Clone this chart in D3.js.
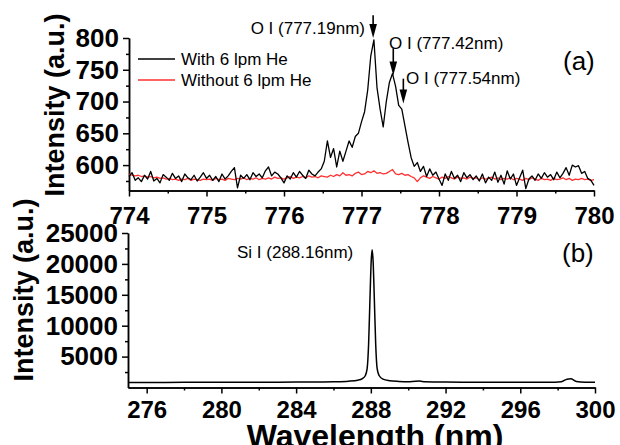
<!DOCTYPE html>
<html>
<head>
<meta charset="utf-8">
<script src="https://cdn.jsdelivr.net/npm/d3@7"></script>
<style>
  body { margin: 0; background: #fff; }
  svg { font-family: "Liberation Sans", Arial, sans-serif; }
  .axis path, .axis line { stroke: #000; stroke-width: 1.5px; }
  .axis text { font-size: 24px; font-weight: bold; fill: #000; font-family: "Liberation Sans", Arial, sans-serif; }
  .y-axis text { font-size: 26px; }
  .note { font-size: 17px; fill: #000; }
  .panel-tag { font-size: 26px; fill: #000; }
  .axis-title { font-size: 27px; font-weight: bold; fill: #000; }
</style>
</head>
<body>
<div id="chart"></div>
<script>
var svgWidth = 620;
var svgHeight = 445;

// panel (a): spectra sampled every 0.04 nm from 774 to 780 nm
var waveStartA = 774;
var waveStepA = 0.04;
var withHe = [
  582, 588, 576, 580, 574, 584, 578, 590, 575, 579, 572, 585, 581, 576, 587, 579, 583, 574, 586, 580, 577, 584, 575, 581, 588,
  579, 584, 576, 582, 574, 586, 578, 583, 590, 596, 564, 584, 579, 585, 577, 588, 582, 586, 580, 591, 597, 583, 589, 586, 580,
  572, 583, 578, 588, 581, 590, 584, 579, 592, 586, 583, 589, 594,
  606, 638, 612, 626, 597, 622, 606, 622, 638, 628, 645, 650, 668, 684, 718, 772, 797, 722, 688, 660, 700, 730, 744, 724, 694,
  688, 662, 636, 612, 598, 604, 590, 598, 582, 594, 584, 589, 578, 568,
  586, 576, 590, 579, 584, 574, 588, 580, 585, 577, 583, 575, 586, 572, 581, 576, 589, 573, 584, 570, 591, 578, 586, 568, 580,
  592, 563, 578, 583, 576, 586, 579, 588, 581, 585, 577, 589, 580, 587, 596, 584, 600, 597, 599, 587, 590, 579, 576, 568
];
var withoutHe = [
  586, 584, 583, 584, 582, 583, 581, 582, 580, 581, 579,
  580, 578, 579, 577, 578, 576, 578, 577, 579, 576, 578, 577, 576, 578, 577,
  578, 576, 579, 577, 578, 576, 579, 578, 577, 579, 578, 580, 577, 579, 578, 580, 577, 579, 578, 580, 578, 581, 579, 580, 578,
  580, 582, 579, 581, 580, 582, 580, 583, 581, 582, 580, 583, 582, 581, 584, 582, 585, 583, 588, 584,
  585, 583, 587, 589, 585, 586, 590, 588, 591, 587, 588, 586, 587, 590, 593, 586, 585, 587, 584, 585, 582, 580, 574, 580, 583,
  581, 579, 582, 580, 578, 581, 579, 582, 580, 578, 581, 579, 580, 578, 581, 579, 580, 577, 580, 578,
  579, 581, 578, 580, 577, 579, 578, 580, 577, 579, 578, 576, 579, 577, 580, 578, 576, 579, 577, 578,
  576, 579, 577, 578, 580, 577, 579, 576, 578, 577, 579, 577, 578, 576, 577
];
var xTicksA = [774, 775, 776, 777, 778, 779, 780];
var yTicksA = [600, 650, 700, 750, 800];
var seriesNamesA = ["With 6 lpm He", "Without 6 lpm He"];
var seriesColorsA = ["#000000", "#ff3030"];
var linesA = [
  { label: "O I (777.19nm)", wave: 777.15, tip: 800, tail: 836, textWave: 777.045, textY: 806, anchor: "end" },
  { label: "O I (777.42nm)", wave: 777.41, tip: 741, tail: 784, textWave: 777.355, textY: 783, anchor: "start" },
  { label: "O I (777.54nm)", wave: 777.54, tip: 697, tail: 736, textWave: 777.574, textY: 728, anchor: "start" }
];

// panel (b): Si spectrum
var waveB = [275, 276, 278, 280, 282, 284, 285, 286, 286.8, 287.3, 287.55, 287.7, 287.8, 287.88, 287.95, 288.02, 288.07,
  288.12, 288.19, 288.26, 288.34, 288.45, 288.65, 289.0, 289.5, 290.0, 290.4, 290.6, 290.9, 292, 294, 296, 297.5, 298.2,
  298.5, 298.7, 299.0, 299.5, 300];
var intensityB = [820, 820, 830, 840, 850, 870, 890, 930, 1020, 1180, 1450, 1900, 3000, 7000, 14000, 20500, 22300,
  20500, 14000, 7000, 3000, 1900, 1350, 1100, 980, 930, 1030, 1040, 920, 880, 860, 850, 860, 950,
  1350, 1400, 980, 860, 840];
var xTicksB = [276, 280, 284, 288, 292, 296, 300];
var yTicksB = [5000, 10000, 15000, 20000, 25000];

var svg = d3.select("#chart")
  .append("svg")
  .attr("width", svgWidth)
  .attr("height", svgHeight);

svg.append("rect").attr("width", svgWidth).attr("height", svgHeight).attr("fill", "#fff");

// ---------- panel (a) ----------
var xA = d3.scaleLinear().domain([774, 780]).range([129, 594]);
var yA = d3.scaleLinear().domain([560, 800]).range([190.5, 38]);

var gA = svg.append("g");

gA.append("g")
  .attr("class", "axis")
  .attr("transform", "translate(0,190.5)")
  .call(d3.axisBottom(xA).tickValues(d3.range(774.5, 780, 1)).tickSize(3).tickSizeOuter(0).tickFormat(""));
gA.append("g")
  .attr("class", "axis")
  .attr("transform", "translate(0,190.5)")
  .call(d3.axisBottom(xA).tickValues(xTicksA).tickSize(6).tickSizeOuter(0).tickPadding(10).tickFormat(d3.format("d")));

gA.append("g")
  .attr("class", "axis y-axis")
  .attr("transform", "translate(129,0)")
  .call(d3.axisLeft(yA).tickValues([575, 625, 675, 725, 775]).tickSize(3).tickSizeOuter(0).tickFormat(""));
gA.append("g")
  .attr("class", "axis y-axis")
  .attr("transform", "translate(129,0)")
  .call(d3.axisLeft(yA).tickValues(yTicksA).tickSize(6).tickSizeOuter(0).tickPadding(4).tickFormat(d3.format("d")));

var lineA = d3.line()
  .x((d, i) => xA(waveStartA + i * waveStepA))
  .y(d => yA(d));

[withoutHe, withHe].forEach(function(series, k) {
  gA.append("path")
    .datum(series)
    .attr("fill", "none")
    .attr("stroke", k === 0 ? seriesColorsA[1] : seriesColorsA[0])
    .attr("stroke-width", 1.3)
    .attr("stroke-linejoin", "round")
    .attr("d", lineA);
});

// arrows + labels
linesA.forEach(function(p) {
  var x = xA(p.wave), yTip = yA(p.tip), yTail = yA(p.tail);
  gA.append("line")
    .attr("x1", x).attr("x2", x)
    .attr("y1", yTail).attr("y2", yTip - 10)
    .attr("stroke", "#000").attr("stroke-width", 1.6);
  gA.append("path")
    .attr("d", `M${x - 3.8},${yTip - 14} L${x + 3.8},${yTip - 14} L${x},${yTip} Z`)
    .attr("fill", "#000");
  gA.append("text")
    .attr("class", "note")
    .attr("x", xA(p.textWave))
    .attr("y", yA(p.textY))
    .attr("text-anchor", p.anchor)
    .text(p.label);
});

// legend
var legend = gA.append("g").attr("transform", "translate(138,59)");
seriesNamesA.forEach(function(name, i) {
  legend.append("line")
    .attr("x1", 0).attr("x2", 37)
    .attr("y1", i * 21).attr("y2", i * 21)
    .attr("stroke", seriesColorsA[i]).attr("stroke-width", 1.5);
  legend.append("text")
    .attr("class", "note")
    .attr("x", 43).attr("y", i * 21 + 6)
    .text(name);
});

gA.append("text").attr("class", "panel-tag").attr("x", 563).attr("y", 70).text("(a)");

gA.append("text")
  .attr("class", "axis-title")
  .attr("transform", "translate(64,105) rotate(-90)")
  .attr("text-anchor", "middle")
  .text("Intensity (a.u.)");

// ---------- panel (b) ----------
var xB = d3.scaleLinear().domain([275, 300]).range([128, 595]);
var yB = d3.scaleLinear().domain([0, 25000]).range([387.5, 233]);

var gB = svg.append("g");

gB.append("g")
  .attr("class", "axis")
  .attr("transform", "translate(0,387.5)")
  .call(d3.axisBottom(xB).tickValues(d3.range(278, 300, 4)).tickSize(3).tickSizeOuter(0).tickFormat(""));
gB.append("g")
  .attr("class", "axis")
  .attr("transform", "translate(0,387.5)")
  .call(d3.axisBottom(xB).tickValues(xTicksB).tickSize(6).tickSizeOuter(0).tickPadding(7).tickFormat(d3.format("d")));

gB.append("g")
  .attr("class", "axis y-axis")
  .attr("transform", "translate(128,0)")
  .call(d3.axisLeft(yB).tickValues(d3.range(2500, 25000, 5000)).tickSize(3).tickSizeOuter(0).tickFormat(""));
gB.append("g")
  .attr("class", "axis y-axis")
  .attr("transform", "translate(128,0)")
  .call(d3.axisLeft(yB).tickValues(yTicksB).tickSize(6).tickSizeOuter(0).tickPadding(4).tickFormat(d3.format("d")));

var lineB = d3.line()
  .x((d, i) => xB(waveB[i]))
  .y(d => yB(d))
  .curve(d3.curveMonotoneX);

gB.append("path")
  .datum(intensityB)
  .attr("fill", "none")
  .attr("stroke", "#000")
  .attr("stroke-width", 1.5)
  .attr("d", lineB);

gB.append("text").attr("class", "note").attr("x", 237).attr("y", 258).text("Si I (288.16nm)");
gB.append("text").attr("class", "panel-tag").attr("x", 562).attr("y", 262).text("(b)");

gB.append("text")
  .attr("class", "axis-title")
  .attr("transform", "translate(33,290) rotate(-90)")
  .attr("text-anchor", "middle")
  .text("Intensity (a.u.)");

svg.append("text")
  .attr("class", "axis-title")
  .attr("x", 375)
  .attr("y", 447)
  .attr("text-anchor", "middle")
  .style("font-size", "32px")
  .text("Wavelength (nm)");
</script>
</body>
</html>
